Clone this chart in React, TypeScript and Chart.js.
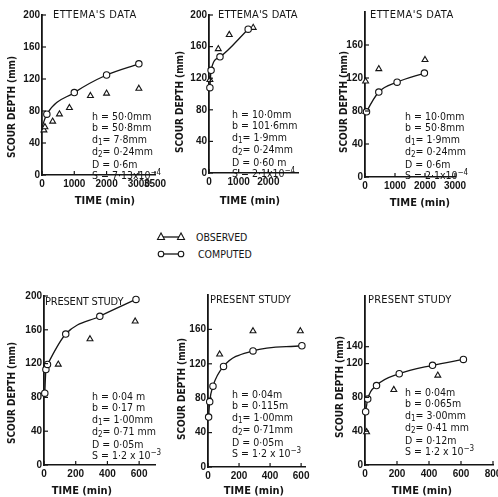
import React, { useEffect, useRef } from 'react';
import { Chart, registerables } from 'chart.js';
Chart.register(...registerables);

// ---------- DATA ----------
// Panel 1: Ettema's data (h=50mm, b=50.8mm)
const p1ObsT = [60, 90, 330, 540, 850, 1500, 2000, 3000];
const p1ObsD = [56, 60, 67, 76, 84, 99, 102, 108];
const p1CompT = [0, 150, 1000, 2000, 3000];
const p1CompD = [60, 76, 103, 125, 139];
const p1XTicks = [0, 1000, 2000, 3000, 3500];
const p1YTicks = [0, 40, 80, 120, 160, 200];

// Panel 2: Ettema's data (h=10mm, b=101.6mm)
const p2ObsT = [30, 313, 683, 1490];
const p2ObsD = [118, 157, 175, 184];
const p2CompT = [30, 70, 370, 1320];
const p2CompD = [108, 130, 147, 182];
const p2XTicks = [0, 1000, 2000];
const p2YTicks = [0, 40, 80, 120, 160, 200];

// Panel 3: Ettema's data (h=10mm, b=50.8mm)
const p3ObsT = [20, 30, 460, 2000];
const p3ObsD = [116, 79, 131, 142];
const p3CompT = [0, 50, 460, 1070, 1980];
const p3CompD = [75, 79, 103, 115, 126];
const p3XTicks = [0, 1000, 2000, 3000];
const p3YTicks = [0, 40, 80, 120, 160];

// Panel 4: Present study (b=0.17m)
const p4ObsT = [90, 290, 575];
const p4ObsD = [119, 149, 170];
const p4CompT = [5, 12, 22, 137, 352, 580];
const p4CompD = [85, 113, 119, 155, 176, 196];
const p4XTicks = [0, 200, 400, 600];
const p4YTicks = [0, 40, 80, 120, 160, 200];

// Panel 5: Present study (b=0.115m)
const p5ObsT = [75, 290, 595];
const p5ObsD = [131, 158, 158];
const p5CompT = [4, 11, 32, 100, 290, 605];
const p5CompD = [58, 76, 94, 117, 135, 141];
const p5XTicks = [0, 200, 400, 600];
const p5YTicks = [0, 40, 80, 120, 160];

// Panel 6: Present study (b=0.065m)
const p6ObsT = [10, 180, 455];
const p6ObsD = [39, 89, 106];
const p6CompT = [4, 17, 72, 214, 422, 615];
const p6CompD = [63, 78, 94, 108, 118, 125];
const p6XTicks = [0, 200, 400, 600, 800];
const p6YTicks = [0, 40, 80, 120, 140];

const INK = '#151515';
const FF = '"DejaVu Sans Condensed", "DejaVu Sans", sans-serif';
const FN = '"Liberation Sans", Arial, sans-serif';

const Y_W = 28, PAD_T = 8, PAD_R = 16, X_H = 22;

const inTicks = {
  id: 'inTicks',
  afterDatasetsDraw(chart: any) {
    const { ctx, chartArea, scales } = chart;
    ctx.save();
    ctx.strokeStyle = INK;
    ctx.lineWidth = 1.2;
    scales.y.ticks.forEach((t: any) => {
      const py = scales.y.getPixelForValue(t.value);
      ctx.beginPath();
      ctx.moveTo(chartArea.left, py);
      ctx.lineTo(chartArea.left + 4, py);
      ctx.stroke();
    });
    scales.x.ticks.forEach((t: any) => {
      const px = scales.x.getPixelForValue(t.value);
      ctx.beginPath();
      ctx.moveTo(px, chartArea.bottom);
      ctx.lineTo(px, chartArea.bottom - 4);
      ctx.stroke();
    });
    ctx.restore();
  },
};

type PanelCfg = {
  L: number; T: number; R: number; B: number;
  xMax: number; yMax: number;
  xTicks: number[]; yTicks: number[];
  obsT: number[]; obsD: number[];
  compT: number[]; compD: number[];
  hideFirst: boolean;
};

function Panel({ cfg }: { cfg: PanelCfg }) {
  const ref = useRef<HTMLCanvasElement | null>(null);
  const w = cfg.R - cfg.L + Y_W + PAD_R;
  const h = cfg.B - cfg.T + PAD_T + X_H;
  useEffect(() => {
    if (!ref.current) return;
    const tickFont = { family: FN, size: 10, weight: 'bold' as const };
    const chart = new Chart(ref.current, {
      type: 'scatter',
      data: {
        datasets: [
          {
            data: cfg.compT.map((t, i) => ({ x: t, y: cfg.compD[i] })),
            showLine: true,
            borderColor: INK,
            borderWidth: 1.3,
            cubicInterpolationMode: 'monotone',
            pointStyle: 'circle',
            pointRadius: cfg.compT.map((_, i) => (cfg.hideFirst && i === 0 ? 0 : 3.2)),
            pointBackgroundColor: '#fff',
            pointBorderColor: INK,
            pointBorderWidth: 1.1,
            clip: false,
          } as any,
          {
            data: cfg.obsT.map((t, i) => ({ x: t, y: cfg.obsD[i] })),
            showLine: false,
            pointStyle: 'triangle',
            pointRadius: 3.4,
            pointBackgroundColor: '#fff',
            pointBorderColor: INK,
            pointBorderWidth: 1.1,
            clip: false,
          } as any,
        ],
      },
      options: {
        animation: false,
        responsive: false,
        devicePixelRatio: 1,
        layout: { padding: { left: 0, top: PAD_T, right: PAD_R, bottom: 0 } },
        plugins: { legend: { display: false }, tooltip: { enabled: false } },
        scales: {
          x: {
            type: 'linear',
            min: 0,
            max: cfg.xMax,
            grid: { display: false, drawTicks: false },
            border: { display: true, color: INK, width: 1.6 },
            ticks: { font: tickFont, color: INK, padding: 3, maxRotation: 0, autoSkip: false, callback: (v: any) => String(v) },
            afterBuildTicks: (s: any) => { s.ticks = cfg.xTicks.map((v) => ({ value: v })); },
            afterFit: (s: any) => { s.height = X_H; },
          },
          y: {
            type: 'linear',
            min: 0,
            max: cfg.yMax,
            grid: { display: false, drawTicks: false },
            border: { display: true, color: INK, width: 1.8 },
            ticks: { font: tickFont, color: INK, padding: 2, autoSkip: false, callback: (v: any) => String(v) },
            afterBuildTicks: (s: any) => { s.ticks = cfg.yTicks.map((v) => ({ value: v })); },
            afterFit: (s: any) => { s.width = Y_W; },
          },
        },
      } as any,
      plugins: [inTicks],
    });
    return () => chart.destroy();
  }, []);
  return (
    <canvas
      ref={ref}
      width={w}
      height={h}
      style={{ position: 'absolute', left: cfg.L - Y_W, top: cfg.T - PAD_T, width: w, height: h }}
    />
  );
}

const panels: PanelCfg[] = [
  { L: 42, T: 15, R: 155, B: 175, xMax: 3500, yMax: 200, xTicks: p1XTicks, yTicks: p1YTicks, obsT: p1ObsT, obsD: p1ObsD, compT: p1CompT, compD: p1CompD, hideFirst: true },
  { L: 209, T: 15, R: 298, B: 173, xMax: 3000, yMax: 200, xTicks: p2XTicks, yTicks: p2YTicks, obsT: p2ObsT, obsD: p2ObsD, compT: p2CompT, compD: p2CompD, hideFirst: false },
  { L: 365, T: 12, R: 455, B: 177, xMax: 3000, yMax: 200, xTicks: p3XTicks, yTicks: p3YTicks, obsT: p3ObsT, obsD: p3ObsD, compT: p3CompT, compD: p3CompD, hideFirst: true },
  { L: 44, T: 296, R: 155, B: 465, xMax: 700, yMax: 200, xTicks: p4XTicks, yTicks: p4YTicks, obsT: p4ObsT, obsD: p4ObsD, compT: p4CompT, compD: p4CompD, hideFirst: false },
  { L: 208, T: 295, R: 305, B: 467, xMax: 625, yMax: 200, xTicks: p5XTicks, yTicks: p5YTicks, obsT: p5ObsT, obsD: p5ObsD, compT: p5CompT, compD: p5CompD, hideFirst: false },
  { L: 365, T: 296, R: 493, B: 465, xMax: 800, yMax: 200, xTicks: p6XTicks, yTicks: p6YTicks, obsT: p6ObsT, obsD: p6ObsD, compT: p6CompT, compD: p6CompD, hideFirst: false },
];

const titles = [
  { text: "ETTEMA'S DATA", x: 53, y: 9, ls: 0.5 },
  { text: "ETTEMA'S DATA", x: 218, y: 9, ls: 0.2 },
  { text: "ETTEMA'S DATA", x: 370, y: 9, ls: 0.5 },
  { text: 'PRESENT STUDY', x: 45, y: 296, ls: -0.2 },
  { text: 'PRESENT STUDY', x: 210, y: 294, ls: 0 },
  { text: 'PRESENT STUDY', x: 368, y: 294, ls: 0.2 },
];

const yTitles = [
  { x: 12, y: 107 }, { x: 180, y: 102 }, { x: 344, y: 102 },
  { x: 12, y: 393 }, { x: 182, y: 389 }, { x: 340, y: 387 },
];
const xTitles = [
  { x: 105, y: 200 }, { x: 250, y: 200 }, { x: 420, y: 202 },
  { x: 82, y: 490 }, { x: 254, y: 490 }, { x: 422, y: 490 },
];

type Param = { x: number; y: number; h: string; b: string; d1: string; d2: string; D: string; S: string; e: string };
const params: Param[] = [
  { x: 92, y: 111, h: '50·0mm', b: '50·8mm', d1: '7·8mm', d2: '0·24mm', D: '0·6m', S: '7·13x10', e: '−4' },
  { x: 232, y: 109, h: '10·0mm', b: '101·6mm', d1: '1·9mm', d2: '0·24mm', D: '0·60 m', S: '2·1x10', e: '−4' },
  { x: 405, y: 111, h: '10·0mm', b: '50·8mm', d1: '1·9mm', d2: '0·24mm', D: '0·6m', S: '2·1x10', e: '−4' },
  { x: 92, y: 391, h: '0·04 m', b: '0·17 m', d1: '1·00mm', d2: '0·71 mm', D: '0·05m', S: '1·2 x 10', e: '−3' },
  { x: 232, y: 389, h: '0·04m', b: '0·115m', d1: '1·00mm', d2: '0·71mm', D: '0·05m', S: '1·2 x 10', e: '−3' },
  { x: 405, y: 387, h: '0·04m', b: '0·065m', d1: '3·00mm', d2: '0·41 mm', D: '0·12m', S: '1·2 x 10', e: '−3' },
];

const txt: React.CSSProperties = {
  position: 'absolute',
  fontFamily: FF,
  color: INK,
  whiteSpace: 'nowrap',
  lineHeight: 1,
};

const subS: React.CSSProperties = { fontSize: 8, verticalAlign: 'baseline', position: 'relative', top: 2 };
const supS: React.CSSProperties = { fontSize: 8, verticalAlign: 'baseline', position: 'relative', top: -4 };

export default function App() {
  return (
    <div style={{ position: 'absolute', left: 0, top: 0, width: 498, height: 497, overflow: 'hidden', background: '#fff' }}>
      {panels.map((p, i) => <Panel key={i} cfg={p} />)}
      {titles.map((t, i) => (
        <div key={'t' + i} style={{ ...txt, left: t.x, top: t.y, fontSize: 11, letterSpacing: t.ls }}>{t.text}</div>
      ))}
      {yTitles.map((t, i) => (
        <div key={'y' + i} style={{ ...txt, left: t.x, top: t.y, fontSize: 10, fontWeight: 'bold', transform: 'translate(-50%, -50%) rotate(-90deg)' }}>SCOUR DEPTH (mm)</div>
      ))}
      {xTitles.map((t, i) => (
        <div key={'x' + i} style={{ ...txt, left: t.x, top: t.y, fontSize: 11, fontWeight: 'bold', transform: 'translate(-50%, -50%)' }}>TIME (min)</div>
      ))}
      {params.map((p, i) => (
        <div key={'p' + i} style={{ ...txt, left: p.x, top: p.y, fontSize: 10.5, lineHeight: '11.4px' }}>
          <div>h = {p.h}</div>
          <div>b = {p.b}</div>
          <div>d<sub style={subS}>1</sub>= {p.d1}</div>
          <div>d<sub style={subS}>2</sub>= {p.d2}</div>
          <div>D = {p.D}</div>
          <div>S = {p.S}<sup style={supS}>{p.e}</sup></div>
        </div>
      ))}
      {/* Legend */}
      <svg style={{ position: 'absolute', left: 156, top: 229 }} width={32} height={32}>
        <line x1={5} y1={8} x2={25} y2={8} stroke={INK} strokeWidth={1.3} />
        <polygon points="5,4 1.5,10.5 8.5,10.5" fill="#fff" stroke={INK} strokeWidth={1.1} />
        <polygon points="25,4 21.5,10.5 28.5,10.5" fill="#fff" stroke={INK} strokeWidth={1.1} />
        <line x1={5} y1={25} x2={25} y2={25} stroke={INK} strokeWidth={1.3} />
        <circle cx={5} cy={25} r={2.8} fill="#fff" stroke={INK} strokeWidth={1.1} />
        <circle cx={25} cy={25} r={2.8} fill="#fff" stroke={INK} strokeWidth={1.1} />
      </svg>
      <div style={{ ...txt, left: 196, top: 232, fontSize: 10.5 }}>OBSERVED</div>
      <div style={{ ...txt, left: 198, top: 249, fontSize: 10.5 }}>COMPUTED</div>
    </div>
  );
}
